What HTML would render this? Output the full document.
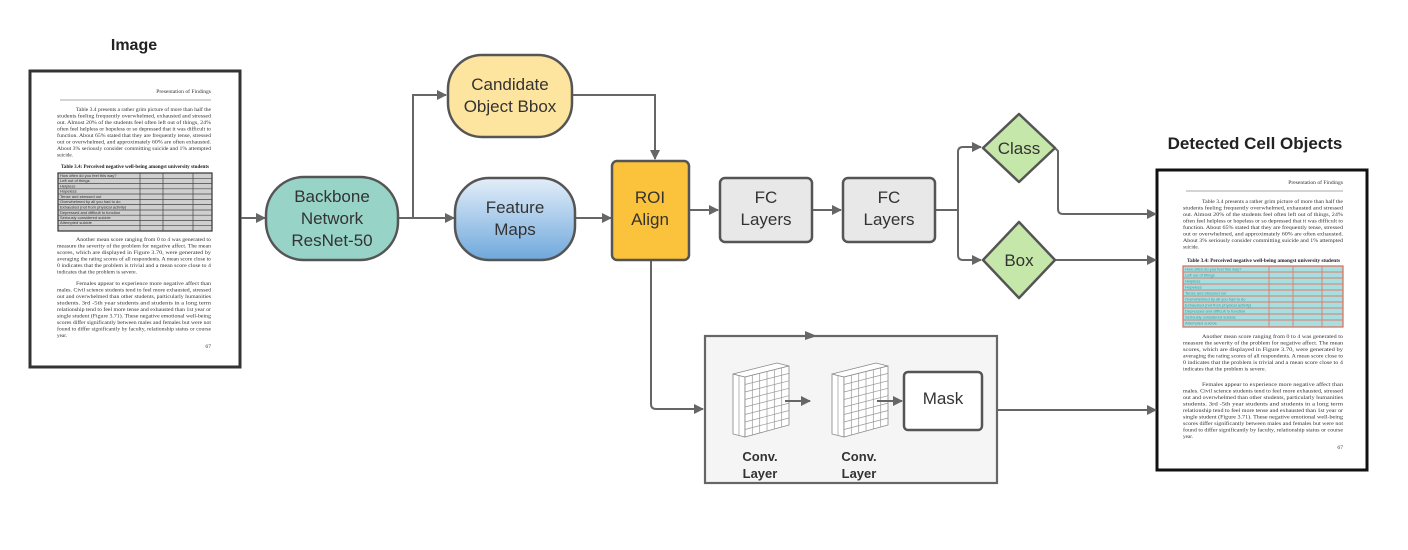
<!DOCTYPE html>
<html><head><meta charset="utf-8"><style>
html,body{margin:0;padding:0;background:#fff;}
svg{display:block;font-family:"Liberation Sans",sans-serif;}
.t{font-size:17px;fill:#333;text-anchor:middle;}
.d{font-family:"Liberation Serif",serif;font-size:5.6px;fill:#333;}
.c{stroke:#666;stroke-width:2;fill:none;}
</style></head><body>
<svg width="1408" height="550" viewBox="0 0 1408 550" xmlns="http://www.w3.org/2000/svg">
<defs>
<marker id="a" markerWidth="10" markerHeight="10" refX="9" refY="5" orient="auto" markerUnits="userSpaceOnUse"><path d="M0,0 L10,5 L0,10 z" fill="#666"/></marker>
<linearGradient id="fm" x1="0" y1="0" x2="0" y2="1"><stop offset="0" stop-color="#e3eef9"/><stop offset="1" stop-color="#6fa8dc"/></linearGradient>
<g id="cube">
<polygon points="0,13 12,16 12,76 0,73" fill="#fff" stroke="#888" stroke-width="0.8"/>
<polygon points="0,13 44,2 56,5 12,16" fill="#fff" stroke="#888" stroke-width="0.8"/>
<polygon points="12,16 56,5 56,64 12,76" fill="#fff" stroke="#888" stroke-width="0.8"/>
<g stroke="#999" stroke-width="0.7">
<line x1="19.3" y1="14.2" x2="19.3" y2="74"/><line x1="26.7" y1="12.3" x2="26.7" y2="72"/><line x1="34" y1="10.5" x2="34" y2="70"/><line x1="41.3" y1="8.7" x2="41.3" y2="68"/><line x1="48.7" y1="6.8" x2="48.7" y2="66"/>
<line x1="12" y1="23.5" x2="56" y2="12.4"/><line x1="12" y1="31" x2="56" y2="19.8"/><line x1="12" y1="38.5" x2="56" y2="27.3"/><line x1="12" y1="46" x2="56" y2="34.7"/><line x1="12" y1="53.5" x2="56" y2="42.1"/><line x1="12" y1="61" x2="56" y2="49.5"/><line x1="12" y1="68.5" x2="56" y2="57"/>
<line x1="0" y1="13" x2="0" y2="73"/><line x1="6" y1="14.5" x2="6" y2="74.5"/>
</g>
</g>
</defs>

<!-- Titles -->
<text x="134" y="50" font-size="16" font-weight="bold" fill="#222" text-anchor="middle">Image</text>
<text x="1255" y="149" font-size="17" font-weight="bold" fill="#222" text-anchor="middle">Detected Cell Objects</text>

<!-- Input document -->
<rect x="30" y="71" width="210" height="296" fill="#fff" stroke="#333" stroke-width="3"/>
<text class="d" x="211" y="93" text-anchor="end">Presentation of Findings</text>
<line x1="60" y1="100" x2="211" y2="100" stroke="#aaa" stroke-width="1"/>
<g class="d">
<text x="76" y="111" textLength="135" lengthAdjust="spacingAndGlyphs">Table 3.4 presents a rather grim picture of more than half the</text>
<text x="57" y="117.5" textLength="154" lengthAdjust="spacingAndGlyphs">students feeling frequently overwhelmed, exhausted and stressed</text>
<text x="57" y="124" textLength="154" lengthAdjust="spacingAndGlyphs">out. Almost 20% of the students feel often left out of things, 24%</text>
<text x="57" y="130.5" textLength="154" lengthAdjust="spacingAndGlyphs">often feel helpless or hopeless or so depressed that it was difficult to</text>
<text x="57" y="137" textLength="154" lengthAdjust="spacingAndGlyphs">function. About 65% stated that they are frequently tense, stressed</text>
<text x="57" y="143.5" textLength="154" lengthAdjust="spacingAndGlyphs">out or overwhelmed, and approximately 60% are often exhausted.</text>
<text x="57" y="150" textLength="154" lengthAdjust="spacingAndGlyphs">About 3% seriously consider committing suicide and 1% attempted</text>
<text x="57" y="156.5" textLength="16" lengthAdjust="spacingAndGlyphs">suicide.</text>
<text x="61" y="168" textLength="148" lengthAdjust="spacingAndGlyphs" font-weight="bold" fill="#222">Table 3.4: Perceived negative well-being amongst university students</text>
<text x="76" y="241" textLength="135" lengthAdjust="spacingAndGlyphs">Another mean score ranging from 0 to 4 was generated to</text>
<text x="57" y="247.5" textLength="154" lengthAdjust="spacingAndGlyphs">measure the severity of the problem for negative affect. The mean</text>
<text x="57" y="254" textLength="154" lengthAdjust="spacingAndGlyphs">scores, which are displayed in Figure 3.70, were generated by</text>
<text x="57" y="260.5" textLength="154" lengthAdjust="spacingAndGlyphs">averaging the rating scores of all respondents. A mean score close to</text>
<text x="57" y="267" textLength="154" lengthAdjust="spacingAndGlyphs">0 indicates that the problem is trivial and a mean score close to 4</text>
<text x="57" y="273.5" textLength="80" lengthAdjust="spacingAndGlyphs">indicates that the problem is severe.</text>
<text x="76" y="285" textLength="135" lengthAdjust="spacingAndGlyphs">Females appear to experience more negative affect than</text>
<text x="57" y="291.5" textLength="154" lengthAdjust="spacingAndGlyphs">males. Civil science students tend to feel more exhausted, stressed</text>
<text x="57" y="298" textLength="154" lengthAdjust="spacingAndGlyphs">out and overwhelmed than other students, particularly humanities</text>
<text x="57" y="304.5" textLength="154" lengthAdjust="spacingAndGlyphs">students. 3rd -5th year students and students in a long term</text>
<text x="57" y="311" textLength="154" lengthAdjust="spacingAndGlyphs">relationship tend to feel more tense and exhausted than 1st year or</text>
<text x="57" y="317.5" textLength="154" lengthAdjust="spacingAndGlyphs">single student (Figure 3.71). These negative emotional well-being</text>
<text x="57" y="324" textLength="154" lengthAdjust="spacingAndGlyphs">scores differ significantly between males and females but were not</text>
<text x="57" y="330.5" textLength="154" lengthAdjust="spacingAndGlyphs">found to differ significantly by faculty, relationship status or course</text>
<text x="57" y="337" textLength="10" lengthAdjust="spacingAndGlyphs">year.</text>
<text x="211" y="348" text-anchor="end">67</text>
</g>
<!-- input table -->
<rect x="58" y="173" width="154" height="58" fill="#cfcfcf" stroke="#333" stroke-width="1.2"/>
<g stroke="#444" stroke-width="0.7">
<line x1="58" y1="178.3" x2="212" y2="178.3"/><line x1="58" y1="183.5" x2="212" y2="183.5"/><line x1="58" y1="188.8" x2="212" y2="188.8"/><line x1="58" y1="194" x2="212" y2="194"/><line x1="58" y1="199.4" x2="212" y2="199.4"/><line x1="58" y1="204.6" x2="212" y2="204.6"/><line x1="58" y1="210" x2="212" y2="210"/><line x1="58" y1="215.2" x2="212" y2="215.2"/><line x1="58" y1="220.4" x2="212" y2="220.4"/><line x1="58" y1="225.7" x2="212" y2="225.7"/>
<line x1="140" y1="173" x2="140" y2="231"/><line x1="163" y1="173" x2="163" y2="231"/><line x1="193" y1="173" x2="193" y2="231"/>
</g>
<g font-size="4" fill="#333">
<text x="60" y="177">How often do you feel this way?</text><text x="60" y="182">Left out of things</text><text x="60" y="187.5">Helpless</text><text x="60" y="192.5">Hopeless</text><text x="60" y="198">Tense and stressed out</text><text x="60" y="203">Overwhelmed by all you had to do</text><text x="60" y="208.5">Exhausted (not from physical activity)</text><text x="60" y="214">Depressed and difficult to function</text><text x="60" y="219">Seriously considered suicide</text><text x="60" y="224">Attempted suicide</text>
</g>

<!-- Output document -->
<rect x="1157" y="170" width="210" height="300" fill="#fff" stroke="#111" stroke-width="3"/>
<text class="d" x="1343" y="184" text-anchor="end">Presentation of Findings</text>
<line x1="1186" y1="191" x2="1343" y2="191" stroke="#bbb" stroke-width="1.2"/>
<g class="d">
<text x="1202" y="203" textLength="141" lengthAdjust="spacingAndGlyphs">Table 3.4 presents a rather grim picture of more than half the</text>
<text x="1183" y="209.5" textLength="160" lengthAdjust="spacingAndGlyphs">students feeling frequently overwhelmed, exhausted and stressed</text>
<text x="1183" y="216" textLength="160" lengthAdjust="spacingAndGlyphs">out. Almost 20% of the students feel often left out of things, 24%</text>
<text x="1183" y="222.5" textLength="160" lengthAdjust="spacingAndGlyphs">often feel helpless or hopeless or so depressed that it was difficult to</text>
<text x="1183" y="229" textLength="160" lengthAdjust="spacingAndGlyphs">function. About 65% stated that they are frequently tense, stressed</text>
<text x="1183" y="235.5" textLength="160" lengthAdjust="spacingAndGlyphs">out or overwhelmed, and approximately 60% are often exhausted.</text>
<text x="1183" y="242" textLength="160" lengthAdjust="spacingAndGlyphs">About 3% seriously consider committing suicide and 1% attempted</text>
<text x="1183" y="248.5" textLength="16" lengthAdjust="spacingAndGlyphs">suicide.</text>
<text x="1187" y="262" textLength="153" lengthAdjust="spacingAndGlyphs" font-weight="bold" fill="#222">Table 3.4: Perceived negative well-being amongst university students</text>
<text x="1202" y="338" textLength="141" lengthAdjust="spacingAndGlyphs">Another mean score ranging from 0 to 4 was generated to</text>
<text x="1183" y="344.5" textLength="160" lengthAdjust="spacingAndGlyphs">measure the severity of the problem for negative affect. The mean</text>
<text x="1183" y="351" textLength="160" lengthAdjust="spacingAndGlyphs">scores, which are displayed in Figure 3.70, were generated by</text>
<text x="1183" y="357.5" textLength="160" lengthAdjust="spacingAndGlyphs">averaging the rating scores of all respondents. A mean score close to</text>
<text x="1183" y="364" textLength="160" lengthAdjust="spacingAndGlyphs">0 indicates that the problem is trivial and a mean score close to 4</text>
<text x="1183" y="370.5" textLength="83" lengthAdjust="spacingAndGlyphs">indicates that the problem is severe.</text>
<text x="1202" y="386" textLength="141" lengthAdjust="spacingAndGlyphs">Females appear to experience more negative affect than</text>
<text x="1183" y="392.5" textLength="160" lengthAdjust="spacingAndGlyphs">males. Civil science students tend to feel more exhausted, stressed</text>
<text x="1183" y="399" textLength="160" lengthAdjust="spacingAndGlyphs">out and overwhelmed than other students, particularly humanities</text>
<text x="1183" y="405.5" textLength="160" lengthAdjust="spacingAndGlyphs">students. 3rd -5th year students and students in a long term</text>
<text x="1183" y="412" textLength="160" lengthAdjust="spacingAndGlyphs">relationship tend to feel more tense and exhausted than 1st year or</text>
<text x="1183" y="418.5" textLength="160" lengthAdjust="spacingAndGlyphs">single student (Figure 3.71). These negative emotional well-being</text>
<text x="1183" y="425" textLength="160" lengthAdjust="spacingAndGlyphs">scores differ significantly between males and females but were not</text>
<text x="1183" y="431.5" textLength="160" lengthAdjust="spacingAndGlyphs">found to differ significantly by faculty, relationship status or course</text>
<text x="1183" y="438" textLength="10" lengthAdjust="spacingAndGlyphs">year.</text>
<text x="1343" y="449" text-anchor="end">67</text>
</g>
<!-- output table -->
<rect x="1183" y="266" width="160" height="61" fill="#a6dfe2" stroke="#e06a55" stroke-width="1.2"/>
<g stroke="#e07a65" stroke-width="0.9">
<line x1="1183" y1="272" x2="1343" y2="272"/><line x1="1183" y1="278" x2="1343" y2="278"/><line x1="1183" y1="284" x2="1343" y2="284"/><line x1="1183" y1="290" x2="1343" y2="290"/><line x1="1183" y1="296" x2="1343" y2="296"/><line x1="1183" y1="302" x2="1343" y2="302"/><line x1="1183" y1="308" x2="1343" y2="308"/><line x1="1183" y1="314" x2="1343" y2="314"/><line x1="1183" y1="320" x2="1343" y2="320"/>
<line x1="1269" y1="266" x2="1269" y2="327"/><line x1="1293" y1="266" x2="1293" y2="327"/><line x1="1322" y1="266" x2="1322" y2="327"/>
</g>
<g font-size="4" fill="#3a9a9a">
<text x="1185" y="270.5">How often do you feel this way?</text><text x="1185" y="276.5">Left out of things</text><text x="1185" y="282.5">Helpless</text><text x="1185" y="288.5">Hopeless</text><text x="1185" y="294.5">Tense and stressed out</text><text x="1185" y="300.5">Overwhelmed by all you had to do</text><text x="1185" y="306.5">Exhausted (not from physical activity)</text><text x="1185" y="312.5">Depressed and difficult to function</text><text x="1185" y="318.5">Seriously considered suicide</text><text x="1185" y="324.5">Attempted suicide</text>
</g>

<!-- Connectors -->
<line class="c" x1="241" y1="218" x2="265" y2="218" marker-end="url(#a)"/>
<path class="c" d="M398,218 L413,218 L413,95 L446,95" marker-end="url(#a)"/>
<line class="c" x1="413" y1="218" x2="454" y2="218" marker-end="url(#a)"/>
<path class="c" d="M572,95 L655,95 L655,159" marker-end="url(#a)"/>
<line class="c" x1="575" y1="218" x2="611" y2="218" marker-end="url(#a)"/>
<line class="c" x1="689" y1="210" x2="718" y2="210" marker-end="url(#a)"/>
<line class="c" x1="812" y1="210" x2="841" y2="210" marker-end="url(#a)"/>
<path class="c" d="M935,210 L958,210 L958,152 Q958,147 963,147 L981,147" marker-end="url(#a)"/>
<path class="c" d="M958,210 L958,255 Q958,260 963,260 L981,260" marker-end="url(#a)"/>
<path class="c" d="M1055,148 L1058,151 L1058,209 Q1058,214 1063,214 L1156,214" marker-end="url(#a)"/>
<line class="c" x1="1055" y1="260" x2="1156" y2="260" marker-end="url(#a)"/>
<path class="c" d="M651,260 L651,404 Q651,409 656,409 L703,409" marker-end="url(#a)"/>
<line class="c" x1="997" y1="410" x2="1156" y2="410" marker-end="url(#a)"/>

<!-- Nodes -->
<rect x="266" y="177" width="132" height="83" rx="38" fill="#98d3c8" stroke="#555" stroke-width="2.5"/>
<text class="t" x="332" y="202">Backbone</text>
<text class="t" x="332" y="224">Network</text>
<text class="t" x="332" y="246">ResNet-50</text>

<rect x="448" y="55" width="124" height="82" rx="34" fill="#fde59f" stroke="#555" stroke-width="2.5"/>
<text class="t" x="510" y="90">Candidate</text>
<text class="t" x="510" y="112">Object Bbox</text>

<rect x="455" y="178" width="120" height="82" rx="34" fill="url(#fm)" stroke="#555" stroke-width="2.5"/>
<text class="t" x="515" y="213">Feature</text>
<text class="t" x="515" y="235">Maps</text>

<rect x="612" y="161" width="77" height="99" rx="5" fill="#fbc23b" stroke="#555" stroke-width="2.5"/>
<text class="t" x="650" y="203">ROI</text>
<text class="t" x="650" y="225">Align</text>

<rect x="720" y="178" width="92" height="64" rx="5" fill="#e8e8e8" stroke="#555" stroke-width="2.5"/>
<text class="t" x="766" y="203">FC</text>
<text class="t" x="766" y="225">Layers</text>

<rect x="843" y="178" width="92" height="64" rx="5" fill="#e8e8e8" stroke="#555" stroke-width="2.5"/>
<text class="t" x="889" y="203">FC</text>
<text class="t" x="889" y="225">Layers</text>

<path d="M1019,114 L1055,148 L1019,182 L983,148 Z" fill="#c6e7aa" stroke="#555" stroke-width="2.5" stroke-linejoin="round"/>
<text class="t" x="1019" y="154">Class</text>
<path d="M1019,222 L1055,260 L1019,298 L983,260 Z" fill="#c6e7aa" stroke="#555" stroke-width="2.5" stroke-linejoin="round"/>
<text class="t" x="1019" y="266">Box</text>

<!-- Mask head -->
<rect x="705" y="336" width="292" height="147" fill="#f5f5f5" stroke="#666" stroke-width="2.2"/>
<path d="M805,331 L817,336 L805,340 Z" fill="#666"/>
<use href="#cube" x="733" y="361"/>
<use href="#cube" x="832" y="361"/>
<line class="c" x1="785" y1="401" x2="810" y2="401" marker-end="url(#a)"/>
<line class="c" x1="877" y1="401" x2="902" y2="401" marker-end="url(#a)"/>
<rect x="904" y="372" width="78" height="58" rx="4" fill="#fff" stroke="#555" stroke-width="2.5"/>
<text class="t" x="943" y="404">Mask</text>
<g font-size="13" font-weight="bold" fill="#333" text-anchor="middle">
<text x="760" y="461">Conv.</text><text x="760" y="478">Layer</text>
<text x="859" y="461">Conv.</text><text x="859" y="478">Layer</text>
</g>
</svg>
</body></html>
